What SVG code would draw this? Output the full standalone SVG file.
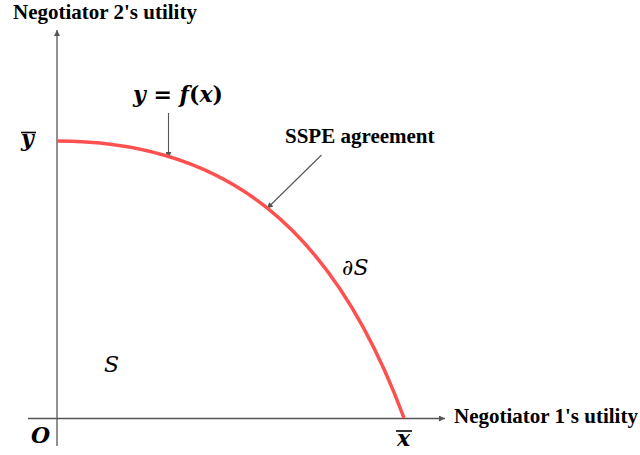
<svg xmlns="http://www.w3.org/2000/svg" width="640" height="455" viewBox="0 0 640 455">
<style>
.axis{stroke:#555;stroke-width:1.3;fill:none}
.ptr{stroke:#555;stroke-width:1.1;fill:none}
.lbl{font-family:"Liberation Serif","Times New Roman",serif;font-weight:bold;font-size:21px;fill:#000}
.math{font-family:"DejaVu Serif","Liberation Serif",serif;font-style:italic;font-weight:bold;font-size:22px;fill:#000}
.thin{font-weight:normal}
.up{font-style:normal}
.bar{stroke:#000;stroke-width:1.6}
</style>
<defs>
<marker id="ah" viewBox="0 0 10 10" refX="10" refY="5" markerWidth="9" markerHeight="6" markerUnits="userSpaceOnUse" orient="auto">
<path d="M0,0 L10,5 L0,10 Z" fill="#555"/>
</marker>
</defs>
<rect width="640" height="455" fill="#fff"/>
<g id="connectors">
<line class="axis" x1="57" y1="446" x2="57" y2="30" marker-end="url(#ah)"/>
<line class="axis" x1="28" y1="418.5" x2="445" y2="418.5" marker-end="url(#ah)"/>
<line class="ptr" x1="168.5" y1="113" x2="168.5" y2="158" marker-end="url(#ah)"/>
<line class="ptr" x1="321.5" y1="155" x2="267" y2="208.5" marker-end="url(#ah)"/>
</g>
<g id="frontier">
<path d="M57,141 C227,141 334,229 404,418" fill="none" stroke="#ff5050" stroke-width="3.5"/>
</g>
<g id="label-y-axis"><text class="lbl" x="13" y="19">Negotiator 2's utility</text></g>
<g id="label-x-axis"><text class="lbl" x="454" y="423">Negotiator 1's utility</text></g>
<g id="label-sspe"><text class="lbl" x="285" y="143">SSPE agreement</text></g>
<g id="label-f"><text class="math" x="133" y="102">y<tspan class="up"> = </tspan>f<tspan class="up">(</tspan>x<tspan class="up">)</tspan></text></g>
<g id="label-ybar"><text class="math" x="21" y="146">y</text><line class="bar" x1="21" y1="132.5" x2="36" y2="132.5"/></g>
<g id="label-xbar"><text class="math" x="397" y="446" font-size="18">x</text><line class="bar" x1="396" y1="431" x2="412" y2="431"/></g>
<g id="label-O"><text class="math" x="31" y="443">O</text></g>
<g id="label-dS"><text class="math thin" x="342" y="275" font-size="23">∂S</text></g>
<g id="label-S"><text class="math thin" x="104" y="372" font-size="21">S</text></g>
</svg>
